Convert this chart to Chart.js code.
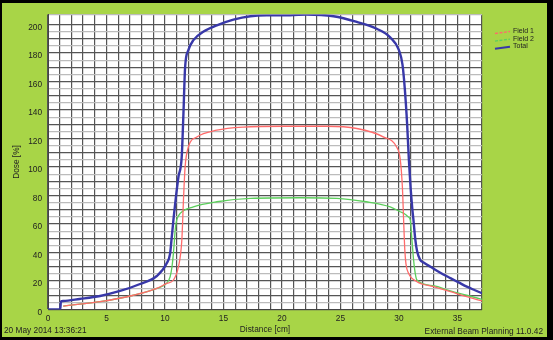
<!DOCTYPE html>
<html>
<head>
<meta charset="utf-8">
<script src="https://cdn.jsdelivr.net/npm/chart.js@4/dist/chart.umd.min.js"></script>
<style>
  html, body { margin: 0; padding: 0; background: #000; }
  canvas { display: block; }
</style>
</head>
<body>
<canvas id="myChart" width="553" height="340"></canvas>
<script>
// dose profiles (distance in cm, dose in %)
const totalX = [0, 1.05, 1.1, 1.3, 2.7, 4.45, 6.16, 7.87, 9.3, 10.15, 10.44, 10.58, 10.72, 10.95, 11.15, 11.43, 11.58, 11.72, 12.0, 12.43, 13.3, 14.43, 15.85, 17.3, 18.7, 20.7, 22.1, 24.4, 26.4, 28.1, 29.25, 30.0, 30.3, 30.5, 30.7, 30.85, 31.0, 31.15, 31.25, 31.4, 31.55, 31.8, 32.2, 32.7, 33.5, 34.4, 35.1, 35.8, 36.5, 37.1];
const totalY = [0, 0, 5.5, 6, 7.4, 9.5, 13, 17.9, 23.5, 32.4, 39.4, 51, 62.7, 80, 93, 107, 138, 170, 182, 189, 195, 199.4, 203.4, 205.8, 206.4, 206.4, 207, 205.8, 201.8, 197, 191, 182, 172, 155, 130, 105, 85, 70, 62, 49, 41, 35, 32.5, 30, 26, 22, 19, 16, 13.5, 11.4];

const field1X = [1.3, 2.7, 4.45, 7.3, 9.3, 10.15, 10.72, 11.15, 11.44, 11.58, 11.72, 12.0, 12.72, 14.43, 16.7, 20.1, 23.8, 26.4, 28.7, 29.8, 30.1, 30.3, 30.4, 30.5, 30.6, 30.82, 31.54, 32.96, 34.4, 35.8, 37.1];
const field1Y = [2.4, 3.8, 5.5, 10, 14.8, 18.3, 20.7, 30, 48.7, 76.8, 100, 114, 121, 125.8, 128, 128.6, 128.6, 127, 121, 114, 106, 85, 62.7, 42, 32, 25.4, 19.5, 16, 12.5, 9, 6];

const field2X = [1.3, 2.7, 4.45, 7.3, 9.3, 10.15, 10.44, 10.6, 10.72, 10.9, 11.0, 11.3, 12.43, 14.43, 17.3, 21.56, 24.7, 27.2, 29.25, 30.1, 30.5, 30.8, 30.97, 31.1, 31.25, 31.4, 31.54, 32.96, 34.4, 35.8, 37.1];
const field2Y = [2.4, 3.8, 5.5, 10, 14.8, 18.5, 23, 30, 39.4, 58, 62.7, 67.4, 72, 75.6, 78, 78.4, 78, 75.6, 72, 68.6, 67, 65, 62.7, 50, 35, 25, 20.7, 16.7, 13, 10, 7.1];

const seriesNames = ['Field 1', 'Field 2', 'Total'];
const xMax = 37.1;
const yMax = 207;
const footerLeft = '20 May 2014 13:36:21';
const footerRight = 'External Beam Planning 11.0.42';

const toPoints = (xs, ys) => xs.map((x, i) => ({ x: x, y: ys[i] }));

const FONT = '"Liberation Sans", Arial, sans-serif';
const colors = { 'Field 1': '#ff6b6b', 'Field 2': '#5ccf5c', 'Total': '#3838a8' };

// green frame, black border, white plot area
const backgroundPlugin = {
  id: 'frame',
  beforeDraw(chart) {
    const ctx = chart.ctx;
    const a = chart.chartArea;
    ctx.save();
    ctx.fillStyle = '#000';
    ctx.fillRect(0, 0, chart.width, chart.height);
    ctx.fillStyle = '#a8d547';
    ctx.fillRect(2, 3, 545, 334);
    ctx.fillStyle = '#fff';
    ctx.fillRect(a.left, a.top, a.right - a.left, a.bottom - a.top);
    ctx.restore();
  },
  afterDraw(chart) {
    const ctx = chart.ctx;
    ctx.save();
    // legend
    const rows = [
      { name: seriesNames[0], y: 31, dash: [3, 1.5], w: 1.3 },
      { name: seriesNames[1], y: 38.6, dash: [3, 1.5], w: 1.3 },
      { name: seriesNames[2], y: 46.2, dash: [], w: 2 }
    ];
    rows.forEach(r => {
      ctx.strokeStyle = colors[r.name];
      ctx.lineWidth = r.w;
      ctx.setLineDash(r.dash);
      ctx.beginPath();
      ctx.moveTo(495, r.y + 2.5);
      ctx.lineTo(510, r.y + 0.5);
      ctx.stroke();
      ctx.setLineDash([]);
      ctx.fillStyle = '#222';
      ctx.font = '7px ' + FONT;
      ctx.textBaseline = 'middle';
      ctx.textAlign = 'left';
      ctx.fillText(r.name, 513, r.y);
    });
    // footer
    ctx.font = '8.3px ' + FONT;
    ctx.fillStyle = '#222';
    ctx.textBaseline = 'middle';
    ctx.textAlign = 'left';
    ctx.fillText(footerLeft, 4, 331);
    ctx.textAlign = 'right';
    ctx.fillText(footerRight, 543, 332);
    ctx.restore();
  }
};

const ctx = document.getElementById('myChart').getContext('2d');
const myChart = new Chart(ctx, {
  type: 'line',
  data: {
    datasets: [
      {
        label: seriesNames[2],
        data: toPoints(totalX, totalY),
        borderColor: colors['Total'],
        borderWidth: 2.4,
        order: 0
      },
      {
        label: seriesNames[0],
        data: toPoints(field1X, field1Y),
        borderColor: colors['Field 1'],
        borderWidth: 1.3,
        order: 1
      },
      {
        label: seriesNames[1],
        data: toPoints(field2X, field2Y),
        borderColor: colors['Field 2'],
        borderWidth: 1.3,
        order: 2
      }
    ]
  },
  options: {
    responsive: false,
    animation: false,
    parsing: false,
    cubicInterpolationMode: 'monotone',
    elements: { point: { radius: 0 } },
    layout: { padding: { left: 0, top: 14.5, right: 71, bottom: 0 } },
    plugins: {
      legend: { display: false },
      tooltip: { enabled: false }
    },
    scales: {
      x: {
        type: 'linear',
        min: 0,
        max: xMax,
        afterFit: (scale) => { scale.height = 30.5; },
        ticks: {
          stepSize: 1,
          autoSkip: false,
          maxRotation: 0,
          padding: 4,
          color: '#222',
          font: { family: FONT, size: 8.3 },
          callback: (v) => (Math.abs(v % 5) < 1e-6 ? v : '')
        },
        grid: { color: '#555', lineWidth: 1.2, drawTicks: false },
        border: { color: '#444', width: 1 },
        title: {
          display: true,
          text: 'Distance [cm]',
          color: '#222',
          font: { family: FONT, size: 8.3 },
          padding: { top: 0, bottom: 5 }
        }
      },
      y: {
        min: 0,
        max: yMax,
        afterFit: (scale) => { scale.width = 48; },
        ticks: {
          stepSize: 5,
          autoSkip: false,
          padding: 6,
          labelOffset: 3,
          color: '#222',
          font: { family: FONT, size: 8.3 },
          callback: (v) => (v % 20 === 0 ? v : '')
        },
        grid: {
          drawTicks: false,
          lineWidth: 1.2,
          color: (c) => (c.tick && c.tick.value % 10 === 0 ? '#555' : '#bcbcbc')
        },
        border: { color: '#444', width: 1 },
        title: {
          display: true,
          text: 'Dose [%]',
          color: '#222',
          font: { family: FONT, size: 8.3 },
          padding: { top: 11.5, bottom: 0 }
        }
      }
    }
  },
  plugins: [backgroundPlugin]
});
</script>
</body>
</html>
